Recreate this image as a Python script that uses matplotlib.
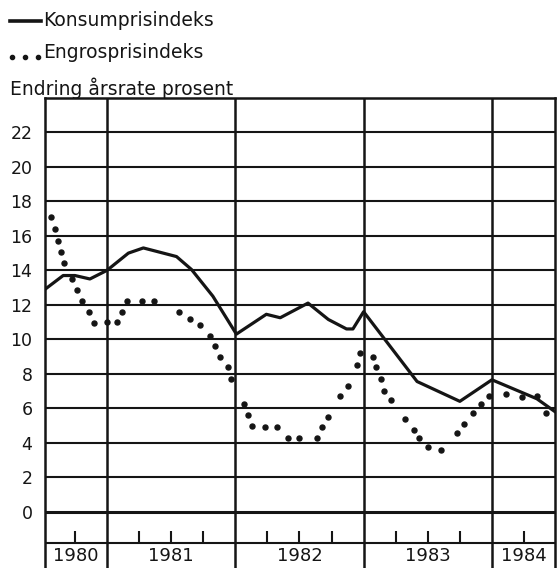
import matplotlib
matplotlib.use("Agg")
import matplotlib.pyplot as plt

# months counted from July 1980 (0) to July 1984 (48)
kpi_months = [0.2, 1.9, 3.0, 4.4, 6.0, 8.0, 9.4, 12.5, 13.9, 15.9, 18.1, 20.9, 22.2,
              24.8, 26.7, 28.4, 29.0, 30.0, 35.0, 39.0, 42.0, 46.2, 47.9]
kpi_values = [12.9, 13.7, 13.7, 13.5, 14.0, 15.0, 15.3, 14.8, 14.05, 12.5, 10.3, 11.45, 11.25,
              12.1, 11.15, 10.6, 10.6, 11.6, 7.55, 6.4, 7.65, 6.55, 5.8]

engros_months = [0.8, 1.15, 1.45, 1.7, 2.0, 2.7, 3.2, 3.7, 4.3, 4.8, 6.0, 6.9, 7.4, 7.9,
                 9.25, 10.4, 12.7, 13.8, 14.7, 15.6, 16.1, 16.6, 17.3, 17.6, 18.85, 19.2,
                 19.6, 20.8, 21.9, 22.9, 24.0, 25.6, 26.1, 26.7, 27.8, 28.5, 29.4, 29.7,
                 30.9, 31.2, 31.6, 31.9, 32.6, 33.9, 34.7, 35.2, 36.0, 37.2, 38.7, 39.4,
                 40.2, 41.0, 41.7, 43.3, 44.8, 46.2, 47.1]
engros_values = [17.1, 16.4, 15.7, 15.05, 14.4, 13.5, 12.85, 12.2, 11.6, 10.95, 11.0, 11.0, 11.6, 12.2,
                 12.2, 12.2, 11.6, 11.2, 10.85, 10.2, 9.6, 9.0, 8.4, 7.7, 6.25, 5.6,
                 4.95, 4.9, 4.9, 4.3, 4.3, 4.3, 4.9, 5.5, 6.7, 7.3, 8.5, 9.2,
                 9.0, 8.4, 7.7, 7.0, 6.45, 5.35, 4.75, 4.3, 3.75, 3.55, 4.55, 5.1,
                 5.7, 6.25, 6.7, 6.85, 6.65, 6.7, 5.75]

years = ["1980", "1981", "1982", "1983", "1984"]
year_bounds = [6, 18, 30, 42]
quarter_ticks = [3, 9, 12, 15, 21, 24, 27, 33, 36, 39, 45]
yticks = list(range(0, 24, 2))

W, H = 557, 568
fig = plt.figure(figsize=(W / 100, H / 100), dpi=100)
ax = fig.add_axes([45 / W, 0, 510 / W, 470 / H])

x0, x1 = 0.2, 47.9
ymin, ymax = -3.27, 24
ax.set_xlim(x0, x1)
ax.set_ylim(ymin, ymax)

ink = "#151515"
for y in yticks:
    ax.axhline(y, color=ink, lw=2.2 if y == 0 else 1.5, zorder=1)
for xb in year_bounds:
    ax.axvline(xb, color=ink, lw=1.8, zorder=1)

# base line with quarter ticks
base = -1.8
ax.axhline(base, color=ink, lw=1.5, zorder=1)
ax.vlines(quarter_ticks, base, -1.12, color=ink, lw=1.5)

for side in ["top", "left", "right"]:
    ax.spines[side].set_linewidth(1.8)
    ax.spines[side].set_color(ink)
ax.spines["bottom"].set_visible(False)

ax.plot(kpi_months, kpi_values, color=ink, lw=2.3, zorder=3, solid_joinstyle="round")
ax.plot(engros_months, engros_values, ls="none", marker="o", ms=3.6, color=ink, zorder=3)

ax.set_xticks([])
ax.set_yticks(yticks)
ax.set_yticklabels([str(v) for v in yticks], fontsize=12.5, color=ink)
ax.tick_params(axis="y", length=0, pad=9)

centers = [(x0 + 6) / 2, 12, 24, 36, (42 + x1) / 2]
for c, lab in zip(centers, years):
    ax.text(c, -2.55, lab, ha="center", va="center", fontsize=13, color=ink)

# legend and axis title at the top
fig.text(43 / W, 1 - 21 / H, "Konsumprisindeks", fontsize=13.5, va="center", color=ink)
fig.add_artist(plt.Line2D([10 / W, 41 / W], [1 - 21 / H, 1 - 21 / H], color=ink, lw=2.6))
fig.text(43 / W, 1 - 53 / H, "Engrosprisindeks", fontsize=13.5, va="center", color=ink)
fig.add_artist(plt.Line2D([12 / W, 25 / W, 38 / W], [1 - 57 / H] * 3, ls="none",
                          marker="o", ms=3.0, color=ink))
fig.text(10 / W, 1 - 88 / H, "Endring årsrate prosent", fontsize=13.5, va="center", color=ink)

fig.savefig("out.png", dpi=100, facecolor="white")
